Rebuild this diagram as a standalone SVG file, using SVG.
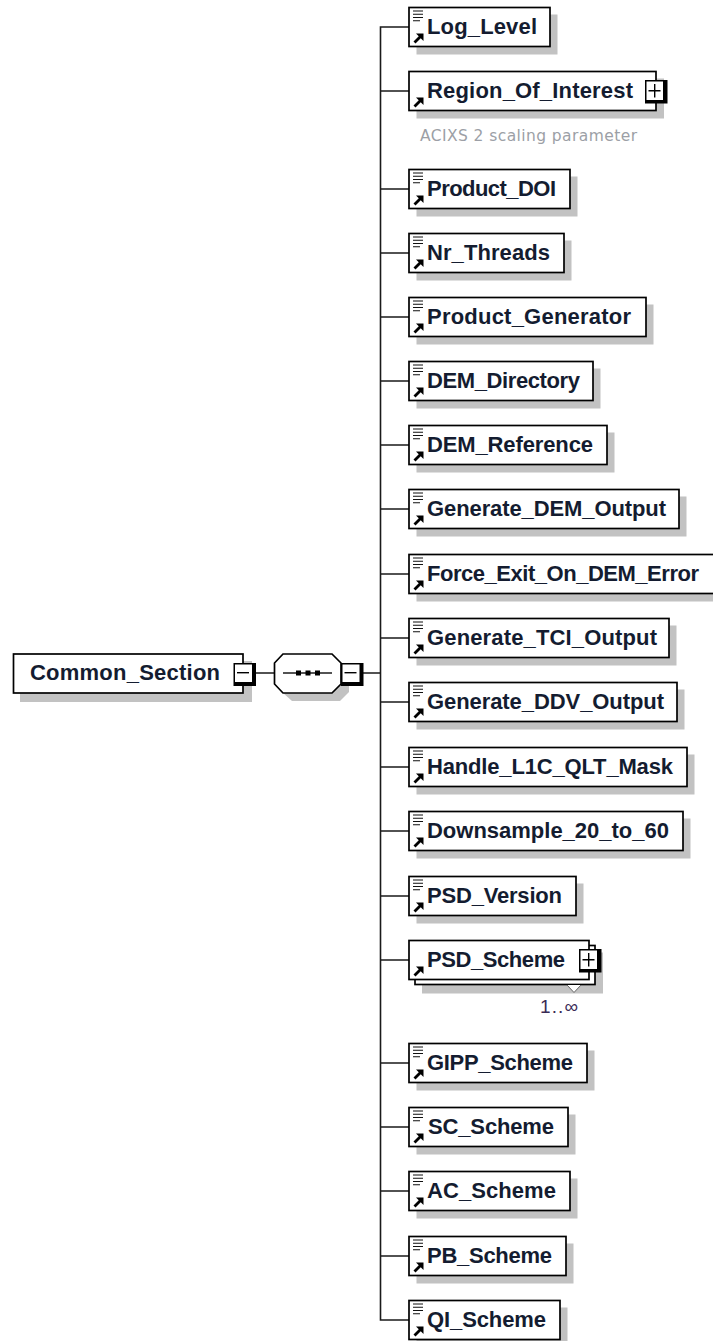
<svg xmlns="http://www.w3.org/2000/svg" width="713" height="1341" viewBox="0 0 713 1341">
<defs>
<g id="doc"><path d="M4 3.500h10M4 6.800h10M4 10h10M4 13.200h7" stroke="#111" stroke-width="1.100" fill="none"/></g>
<g id="ref"><path d="M5.500 35L11.500 29" stroke="#000" stroke-width="2.800" fill="none"/><path d="M14.500 26V33.500L7 26Z" fill="#000"/></g>
<g id="plus"><rect width="22.500" height="23.500" fill="#000"/><rect x="1.500" y="1.500" width="16.500" height="18.500" fill="#fff"/><path d="M3.500 10.700h12M9.700 4v13.500" stroke="#000" stroke-width="1.400"/></g>
<g id="minus"><rect width="22.500" height="23" fill="#000"/><rect x="1.500" y="1.500" width="17" height="17.500" fill="#fff"/><path d="M3.500 9.700h12" stroke="#000" stroke-width="1.400"/></g>
</defs>
<style>
.box{fill:#fff;stroke:#000;stroke-width:1.700}
.sh{fill:#c2c2c2}
.n{font-family:"Liberation Sans",Arial,sans-serif;font-weight:bold;font-size:22px;fill:#141c30}
.c{fill:none;stroke:#1a1a1a;stroke-width:1.600}
</style>
<rect width="713" height="1341" fill="#fff"/>
<g id="connectors">
<path class="c" d="M409 27H380.500V1320H409M381 91H409M381 189H409M381 253H409M381 317H409M381 381H409M381 445H409M381 509H409M381 574H409M381 638H409M381 702H409M381 767H409M381 831H409M381 896H409M381 960H409M381 1063H409M381 1127H409M381 1191H409M381 1256H409"/>
<path class="c" d="M256 673H274M363 673H381"/>
</g>
<g id="Common_Section"><rect class="sh" x="20" y="661" width="232" height="41"/><rect class="box" x="13.500" y="654" width="229.500" height="39"/><text class="n" x="30" y="680" textLength="190">Common_Section</text><use href="#minus" x="233.500" y="663"/></g>
<g id="sequence"><path class="sh" d="M292 662H340L349 671V692L340 701H292L282 692V671Z"/><path class="box" d="M283 654H332L341 663V684L332 693H283L274.500 684V663Z"/><path class="c" d="M283 673H332"/><path d="M296 670.500h5v5h-5zM305.500 670.500h5v5h-5zM315 670.500h5v5h-5z" fill="#000"/><use href="#minus" x="341" y="663"/></g>
<g id="Log_Level" transform="translate(409,7.500)"><rect class="sh" x="7.500" y="7" width="141" height="40"/><rect class="box" x="0" y="0" width="141" height="39"/><use href="#doc"/><use href="#ref"/><text class="n" x="18" y="26" textLength="110">Log_Level</text></g>
<g id="Region_Of_Interest" transform="translate(409,71.500)"><rect class="sh" x="7.500" y="7" width="247.500" height="40"/><rect class="box" x="0" y="0" width="247" height="39"/><use href="#ref"/><text class="n" x="18" y="26" textLength="206">Region_Of_Interest</text><use href="#plus" x="236" y="8.500"/><text x="11" y="69.500" font-family="'DejaVu Sans',sans-serif" font-size="15.500" fill="#9c9fa6" textLength="217">ACIXS 2 scaling parameter</text></g>
<g id="Product_DOI" transform="translate(409,169.500)"><rect class="sh" x="7.500" y="7" width="161" height="40"/><rect class="box" x="0" y="0" width="161" height="39"/><use href="#doc"/><use href="#ref"/><text class="n" x="18" y="26" textLength="129">Product_DOI</text></g>
<g id="Nr_Threads" transform="translate(409,233.500)"><rect class="sh" x="7.500" y="7" width="155" height="40"/><rect class="box" x="0" y="0" width="155" height="39"/><use href="#doc"/><use href="#ref"/><text class="n" x="18" y="26" textLength="123">Nr_Threads</text></g>
<g id="Product_Generator" transform="translate(409,297.500)"><rect class="sh" x="7.500" y="7" width="237" height="40"/><rect class="box" x="0" y="0" width="237" height="39"/><use href="#doc"/><use href="#ref"/><text class="n" x="18" y="26" textLength="204">Product_Generator</text></g>
<g id="DEM_Directory" transform="translate(409,361.500)"><rect class="sh" x="7.500" y="7" width="184" height="40"/><rect class="box" x="0" y="0" width="184" height="39"/><use href="#doc"/><use href="#ref"/><text class="n" x="18" y="26" textLength="153">DEM_Directory</text></g>
<g id="DEM_Reference" transform="translate(409,425.500)"><rect class="sh" x="7.500" y="7" width="198" height="40"/><rect class="box" x="0" y="0" width="198" height="39"/><use href="#doc"/><use href="#ref"/><text class="n" x="18" y="26" textLength="166">DEM_Reference</text></g>
<g id="Generate_DEM_Output" transform="translate(409,489.500)"><rect class="sh" x="7.500" y="7" width="270" height="40"/><rect class="box" x="0" y="0" width="270" height="39"/><use href="#doc"/><use href="#ref"/><text class="n" x="18" y="26" textLength="239">Generate_DEM_Output</text></g>
<g id="Force_Exit_On_DEM_Error" transform="translate(409,554.500)"><rect class="sh" x="7.500" y="7" width="310" height="40"/><rect class="box" x="0" y="0" width="310" height="39"/><use href="#doc"/><use href="#ref"/><text class="n" x="18" y="26" textLength="272">Force_Exit_On_DEM_Error</text></g>
<g id="Generate_TCI_Output" transform="translate(409,618.500)"><rect class="sh" x="7.500" y="7" width="260" height="40"/><rect class="box" x="0" y="0" width="260" height="39"/><use href="#doc"/><use href="#ref"/><text class="n" x="18" y="26" textLength="230">Generate_TCI_Output</text></g>
<g id="Generate_DDV_Output" transform="translate(409,682.500)"><rect class="sh" x="7.500" y="7" width="268" height="40"/><rect class="box" x="0" y="0" width="268" height="39"/><use href="#doc"/><use href="#ref"/><text class="n" x="18" y="26" textLength="237">Generate_DDV_Output</text></g>
<g id="Handle_L1C_QLT_Mask" transform="translate(409,747.500)"><rect class="sh" x="7.500" y="7" width="278" height="40"/><rect class="box" x="0" y="0" width="278" height="39"/><use href="#doc"/><use href="#ref"/><text class="n" x="18" y="26" textLength="246">Handle_L1C_QLT_Mask</text></g>
<g id="Downsample_20_to_60" transform="translate(409,811.500)"><rect class="sh" x="7.500" y="7" width="274" height="40"/><rect class="box" x="0" y="0" width="274" height="39"/><use href="#doc"/><use href="#ref"/><text class="n" x="18" y="26" textLength="242">Downsample_20_to_60</text></g>
<g id="PSD_Version" transform="translate(409,876.500)"><rect class="sh" x="7.500" y="7" width="167" height="40"/><rect class="box" x="0" y="0" width="167" height="39"/><use href="#doc"/><use href="#ref"/><text class="n" x="18" y="26" textLength="135">PSD_Version</text></g>
<g id="PSD_Scheme" transform="translate(409,940.500)"><rect class="sh" x="13" y="12" width="181" height="41"/><rect class="box" x="6" y="5" width="180" height="39"/><rect class="box" x="0" y="0" width="180" height="39"/><use href="#ref"/><text class="n" x="18" y="26" textLength="138">PSD_Scheme</text><use href="#plus" x="170" y="8.500"/><path d="M158 44.500L165 52L172 44.500" fill="#fff" stroke="#666" stroke-width="1"/><text x="131" y="72.500" font-family="'Liberation Sans',sans-serif" font-size="19" fill="#3a2a55" textLength="38">1..∞</text></g>
<g id="GIPP_Scheme" transform="translate(409,1043.500)"><rect class="sh" x="7.500" y="7" width="178" height="40"/><rect class="box" x="0" y="0" width="178" height="39"/><use href="#doc"/><use href="#ref"/><text class="n" x="18" y="26" textLength="146">GIPP_Scheme</text></g>
<g id="SC_Scheme" transform="translate(409,1107.500)"><rect class="sh" x="7.500" y="7" width="159" height="40"/><rect class="box" x="0" y="0" width="159" height="39"/><use href="#doc"/><use href="#ref"/><text class="n" x="19" y="26" textLength="126">SC_Scheme</text></g>
<g id="AC_Scheme" transform="translate(409,1171.500)"><rect class="sh" x="7.500" y="7" width="161" height="40"/><rect class="box" x="0" y="0" width="161" height="39"/><use href="#doc"/><use href="#ref"/><text class="n" x="18" y="26" textLength="129">AC_Scheme</text></g>
<g id="PB_Scheme" transform="translate(409,1236.500)"><rect class="sh" x="7.500" y="7" width="157" height="40"/><rect class="box" x="0" y="0" width="157" height="39"/><use href="#doc"/><use href="#ref"/><text class="n" x="18" y="26" textLength="125">PB_Scheme</text></g>
<g id="QI_Scheme" transform="translate(409,1300.500)"><rect class="sh" x="7.500" y="7" width="151" height="40"/><rect class="box" x="0" y="0" width="151" height="39"/><use href="#doc"/><use href="#ref"/><text class="n" x="18" y="26" textLength="119">QI_Scheme</text></g>
</svg>
